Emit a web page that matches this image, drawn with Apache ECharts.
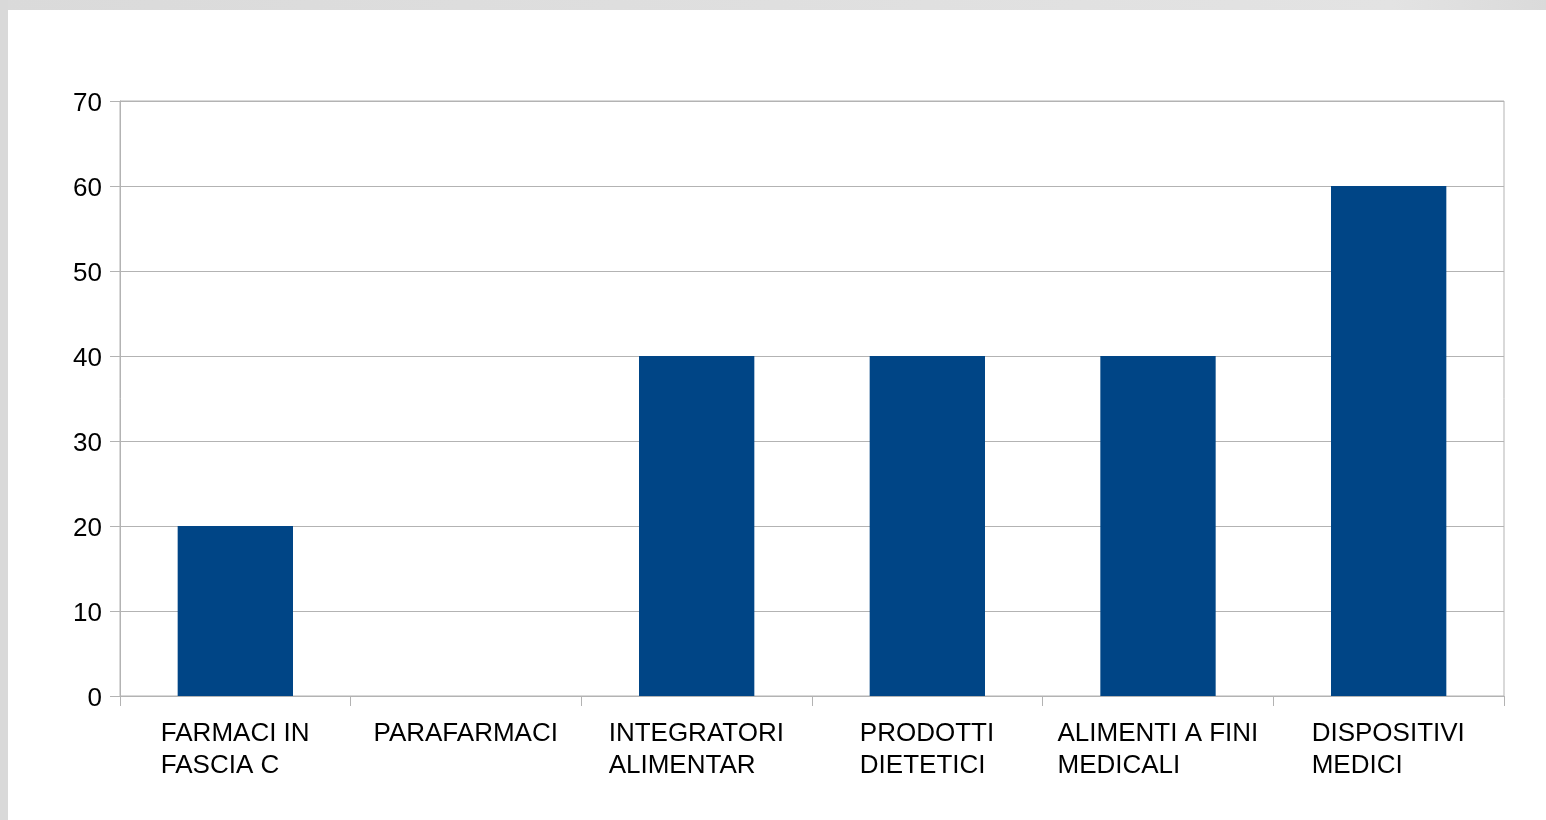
<!DOCTYPE html>
<html>
<head>
<meta charset="utf-8">
<title>Prodotti</title>
<script src="https://cdn.jsdelivr.net/npm/echarts@6/dist/echarts.min.js"></script>
<style>
  html, body { margin: 0; padding: 0; background: #ffffff; }
  #chart { width: 1546px; height: 820px; }
</style>
</head>
<body>
<div id="chart"></div>
<script>
// Product categories (line breaks as shown under the axis)
const categories = [
  'FARMACI IN\nFASCIA C',
  'PARAFARMACI',
  'INTEGRATORI\nALIMENTAR',
  'PRODOTTI\nDIETETICI',
  'ALIMENTI A FINI\nMEDICALI',
  'DISPOSITIVI\nMEDICI'
];
const values = [20, 0, 40, 40, 40, 60];
const yMin = 0;
const yMax = 70;
const yStep = 10;

const gridColor = '#b3b3b3';
const barColor = '#004586';
const fontFamily = 'Liberation Sans, Arial, sans-serif';
const fontSize = 26;
const textStyle = { fontFamily: fontFamily, fontSize: fontSize, color: '#000000' };

// Each category label is a block centred under its slot, with its lines
// left-aligned inside the block: give every label a rich style whose width
// is that of its longest line.
const measureCtx = document.createElement('canvas').getContext('2d');
measureCtx.font = fontSize + 'px ' + fontFamily;
const labelRich = {};
categories.forEach(function (name, i) {
  const w = Math.max.apply(null, name.split('\n').map(function (s) {
    return Math.ceil(measureCtx.measureText(s).width);
  }));
  labelRich['c' + i] = Object.assign({ lineHeight: 32, width: w, align: 'left' }, textStyle);
});

const chart = echarts.init(document.getElementById('chart'), null, { renderer: 'canvas' });

chart.setOption({
  animation: false,
  backgroundColor: '#ffffff',
  graphic: [
    {
      type: 'rect', z: -10,
      shape: { x: 0, y: 0, width: 1546, height: 10 },
      style: {
        fill: new echarts.graphic.LinearGradient(0, 0, 1, 0, [
          { offset: 0, color: '#dadada' },
          { offset: 0.9, color: '#e3e3e3' },
          { offset: 1, color: '#dadada' }
        ])
      }
    },
    { type: 'rect', z: -10, shape: { x: 0, y: 0, width: 8, height: 820 }, style: { fill: '#d9d9d9' } }
  ],
  grid: {
    left: 120,
    top: 101,
    right: 42,
    bottom: 124,
    show: true,
    borderColor: gridColor,
    borderWidth: 1,
    backgroundColor: 'transparent'
  },
  xAxis: {
    type: 'category',
    data: categories,
    boundaryGap: true,
    axisLine: { show: true, lineStyle: { color: gridColor, width: 1 } },
    axisTick: { show: true, length: 10, lineStyle: { color: gridColor } },
    splitLine: { show: false },
    axisLabel: {
      interval: 0,
      margin: 22,
      align: 'center',
      formatter: function (v, i) {
        return v.split('\n').map(function (s) { return '{c' + i + '|' + s + '}'; }).join('\n');
      },
      rich: labelRich
    }
  },
  yAxis: {
    type: 'value',
    min: yMin,
    max: yMax,
    interval: yStep,
    axisLine: { show: true, lineStyle: { color: gridColor, width: 1 } },
    axisTick: { show: true, length: 10, lineStyle: { color: gridColor } },
    splitLine: { show: true, lineStyle: { color: gridColor, width: 1 } },
    // numbers sit slightly below their gridline
    axisLabel: Object.assign({ margin: 18, verticalAlign: 'top', lineHeight: 5 }, textStyle)
  },
  series: [{
    type: 'bar',
    data: values,
    barWidth: '50%',
    itemStyle: { color: barColor }
  }]
});
</script>
</body>
</html>
